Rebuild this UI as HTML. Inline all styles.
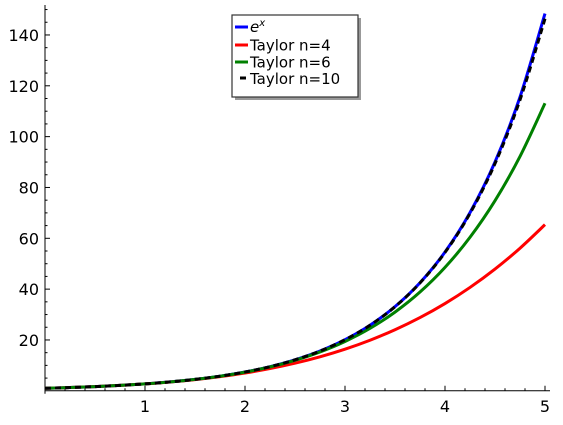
<!DOCTYPE html>
<html><head><meta charset="utf-8"><style>
body{margin:0;background:#fff}
svg text{font-family:"DejaVu Sans","Liberation Sans",sans-serif}
</style></head><body>
<svg id="chart" width="563" height="420" xmlns="http://www.w3.org/2000/svg">
<g id="axes"></g>
<g id="series"></g>
<g id="legend">
  <rect x="235" y="18" width="126" height="82" fill="#999"/>
  <rect x="232" y="15" width="126" height="82" fill="#fff" stroke="#333" stroke-width="1.2"/>
  <g><line x1="235" y1="27" x2="248" y2="27" stroke="#0000ff" stroke-width="3"/><text x="250" y="32" font-size="15" font-style="italic" font-family="Liberation Serif">e<tspan font-size="10" dy="-6">x</tspan></text></g>
  <g><line x1="235" y1="45" x2="248" y2="45" stroke="#ff0000" stroke-width="3"/><text x="250" y="50.5" font-size="15">Taylor n=4</text></g>
  <g><line x1="235" y1="62" x2="248" y2="62" stroke="#008000" stroke-width="3"/><text x="250" y="67.5" font-size="15">Taylor n=6</text></g>
  <g><line x1="240" y1="78" x2="246" y2="78" stroke="#000" stroke-width="3"/><text x="250" y="84" font-size="15">Taylor n=10</text></g>
</g>
</svg>
<script>
const xs = [0,0.25,0.5,0.75,1,1.25,1.5,1.75,2,2.25,2.5,2.75,3,3.25,3.5,3.75,4,4.25,4.5,4.75,5];
const expVals = [1,1.284,1.649,2.117,2.718,3.490,4.482,5.755,7.389,9.488,12.182,15.643,20.086,25.79,33.115,42.521,54.598,70.105,90.017,115.584,148.413];
const taylor4 = [1,1.284,1.648,2.115,2.708,3.458,4.398,5.565,7.0,8.747,10.857,13.380,16.375,19.901,24.024,28.810,34.333,40.669,47.898,56.104,65.375];
const taylor6 = [1,1.284,1.649,2.117,2.718,3.489,4.477,5.742,7.356,9.408,12.010,15.291,19.413,24.560,30.954,38.852,48.555,60.407,74.808,92.218,113.118];
const taylor10 = [1,1.284,1.649,2.117,2.718,3.490,4.482,5.755,7.389,9.488,12.182,15.643,20.08,25.78,33.08,42.45,54.44,69.79,89.41,114.46,146.38];
const xTicks = [1,2,3,4,5];
const yTicks = [20,40,60,80,100,120,140];

const NS="http://www.w3.org/2000/svg";
const X=v=>45+v*100;
const Y=v=>390.8-v*2.5417;
function mk(tag,attrs,parent){const e=document.createElementNS(NS,tag);for(const k in attrs)e.setAttribute(k,attrs[k]);parent.appendChild(e);return e;}
const axes=document.getElementById('axes');
let a=mk('line',{x1:45,y1:Y(0),x2:550,y2:Y(0),stroke:'#000','stroke-width':1},axes);


a=mk('line',{x1:45,y1:Y(0)+3,x2:45,y2:5,stroke:'#000','stroke-width':1},axes);


for(let i=1;i<=25;i++){const v=i*0.2;const big=i%5==0;
 const t=mk('line',{x1:X(v),x2:X(v),y1:Y(0),y2:Y(0)-(big?5:2.5),stroke:'#000'},axes);
 
 }
for(let v=5;v<=150;v+=5){const big=v%20==0;
 const t=mk('line',{x1:45,x2:45+(big?5:2.5),y1:Y(v),y2:Y(v),stroke:'#000'},axes);
 
 }
xTicks.forEach(v=>{const t=mk('text',{x:X(v),y:412,'font-size':16,'text-anchor':'middle'},axes);t.textContent=v;
 
 });
yTicks.forEach(v=>{const t=mk('text',{x:39,y:Y(v)+6,'font-size':16,'text-anchor':'end'},axes);t.textContent=v;
 
 });
function pathFor(vals){const p=xs.map((x,i)=>[X(x),Y(vals[i])]);let d='M'+p[0][0]+','+p[0][1];
 for(let i=0;i<p.length-1;i++){const p0=p[Math.max(i-1,0)],p1=p[i],p2=p[i+1],p3=p[Math.min(i+2,p.length-1)];
  const c1=[p1[0]+(p2[0]-p0[0])/6,p1[1]+(p2[1]-p0[1])/6],c2=[p2[0]-(p3[0]-p1[0])/6,p2[1]-(p3[1]-p1[1])/6];
  d+=` C${c1[0]},${c1[1]} ${c2[0]},${c2[1]} ${p2[0]},${p2[1]}`;}return d;}
const ser=document.getElementById('series');
let s=mk('path',{d:pathFor(expVals),fill:'none',stroke:'#0000ff','stroke-width':3},ser);


s=mk('path',{d:pathFor(taylor4),fill:'none',stroke:'#ff0000','stroke-width':3},ser);


s=mk('path',{d:pathFor(taylor6),fill:'none',stroke:'#008000','stroke-width':3},ser);


s=mk('path',{d:pathFor(taylor10),fill:'none',stroke:'#000','stroke-width':3,'stroke-dasharray':'6,4'},ser);


</script>
</body></html>
